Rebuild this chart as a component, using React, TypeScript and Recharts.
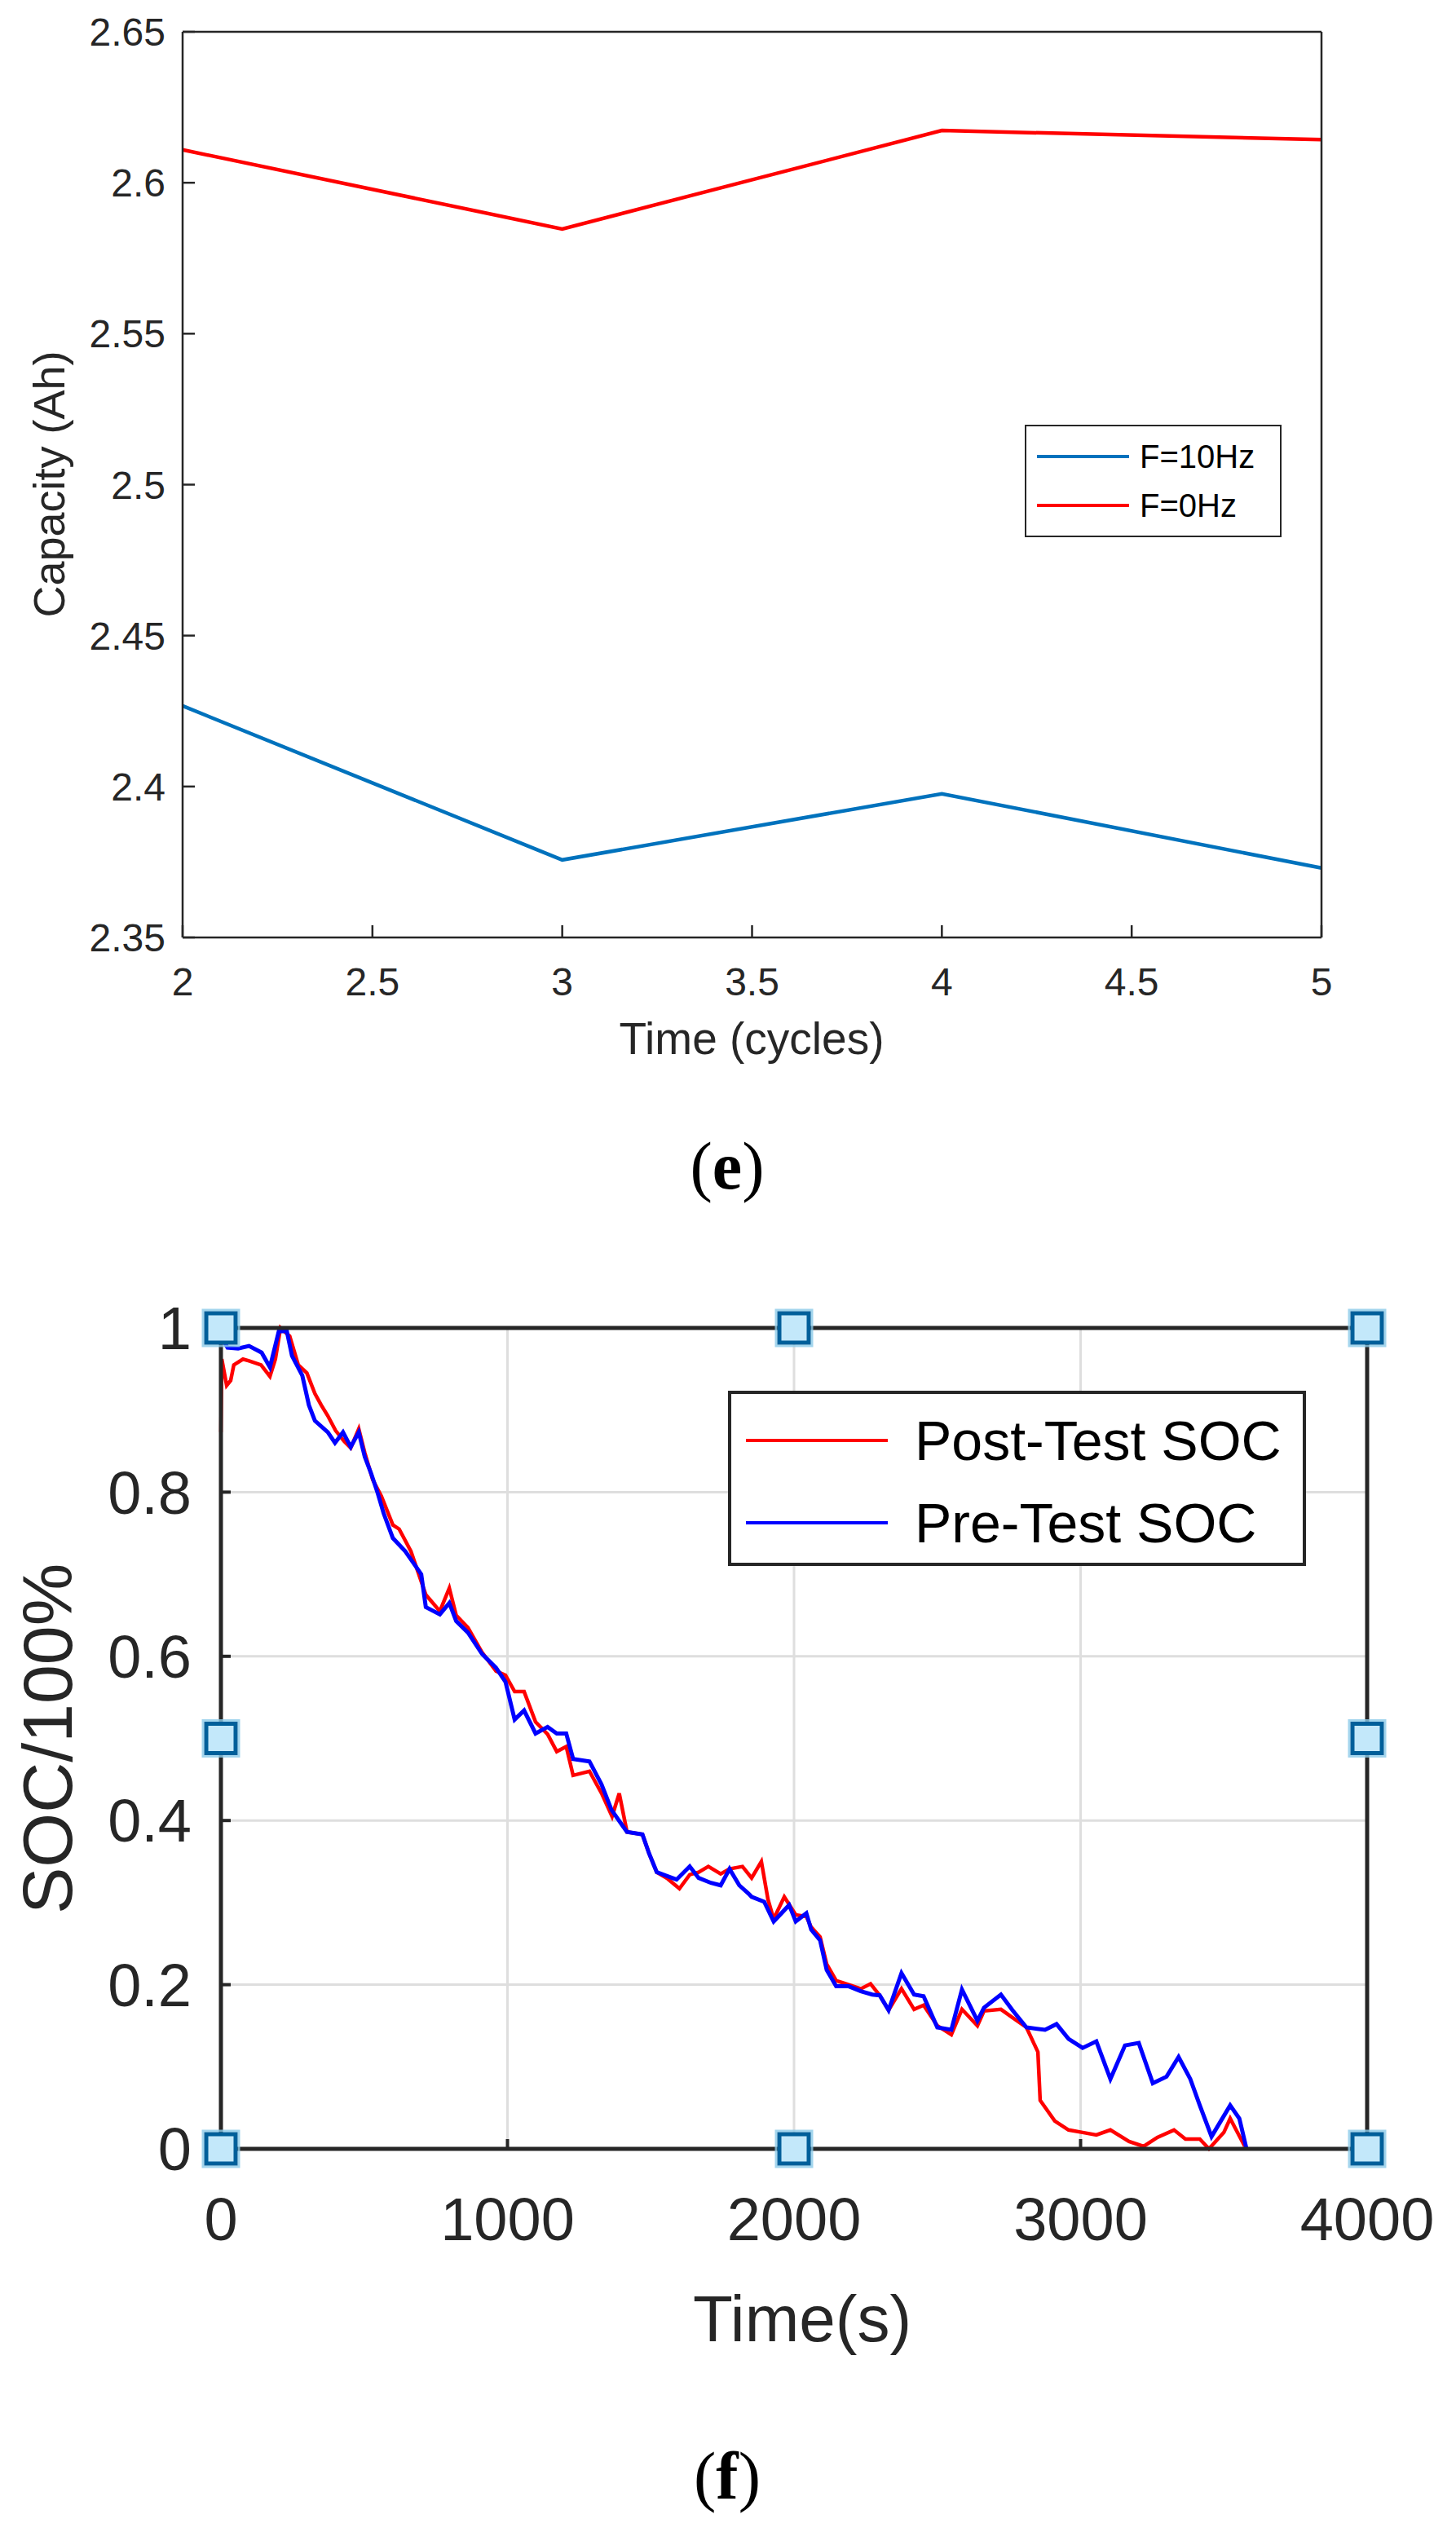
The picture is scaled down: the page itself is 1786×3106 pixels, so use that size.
import React from 'react';
import { LineChart, ComposedChart, Line, Scatter, XAxis, YAxis, CartesianGrid, Legend } from 'recharts';

const FONT = '"Liberation Sans", Arial, Helvetica, sans-serif';
const SERIF = '"Liberation Serif", "Times New Roman", Times, serif';
const AXIS = '#262626';

// ---------- Chart (e): capacity vs cycles ----------
const cycles = [2, 3, 4, 5];
const capacity10Hz = [2.4267, 2.3757, 2.3976, 2.373];
const capacity0Hz = [2.6109, 2.5847, 2.6173, 2.6143];
const capXTicks = [2, 2.5, 3, 3.5, 4, 4.5, 5];
const capYTicks = [2.35, 2.4, 2.45, 2.5, 2.55, 2.6, 2.65];
const capSeriesNames = ['F=10Hz', 'F=0Hz'];

// ---------- Chart (f): SOC vs time ----------
const preTime = [0, 23, 60, 98, 142, 171, 202, 230, 248, 284, 307, 328, 373, 398, 426, 453, 481, 502, 524, 546, 568, 600, 643, 699, 715, 764, 797, 821, 862, 911, 960, 993, 1025, 1058, 1098, 1140, 1172, 1205, 1229, 1286, 1328, 1363, 1417, 1471, 1494, 1521, 1559, 1590, 1636, 1667, 1710, 1744, 1775, 1809, 1841, 1852, 1896, 1929, 1983, 2006, 2043, 2060, 2091, 2114, 2147, 2191, 2233, 2273, 2299, 2330, 2375, 2419, 2452, 2500, 2549, 2586, 2640, 2663, 2722, 2762, 2811, 2876, 2916, 2958, 3007, 3055, 3104, 3155, 3203, 3252, 3300, 3342, 3383, 3416, 3457, 3522, 3554, 3579];
const preSoc = [0.99, 0.976, 0.975, 0.978, 0.97, 0.952, 0.996, 0.996, 0.966, 0.942, 0.906, 0.887, 0.873, 0.86, 0.873, 0.855, 0.873, 0.843, 0.823, 0.8, 0.774, 0.744, 0.728, 0.7, 0.66, 0.651, 0.665, 0.643, 0.629, 0.603, 0.586, 0.569, 0.523, 0.534, 0.506, 0.514, 0.506, 0.506, 0.475, 0.472, 0.444, 0.413, 0.386, 0.383, 0.36, 0.337, 0.332, 0.328, 0.344, 0.33, 0.324, 0.321, 0.341, 0.321, 0.311, 0.307, 0.301, 0.277, 0.297, 0.277, 0.287, 0.267, 0.254, 0.218, 0.198, 0.198, 0.192, 0.188, 0.187, 0.169, 0.214, 0.188, 0.186, 0.148, 0.145, 0.194, 0.156, 0.172, 0.188, 0.169, 0.148, 0.145, 0.152, 0.134, 0.123, 0.131, 0.085, 0.126, 0.129, 0.08, 0.088, 0.112, 0.085, 0.053, 0.015, 0.053, 0.037, 0.0];
const postTime = [0, 3, 20, 34, 45, 77, 98, 140, 171, 190, 208, 240, 270, 300, 328, 350, 373, 400, 430, 453, 481, 502, 530, 560, 600, 622, 663, 715, 764, 797, 821, 862, 911, 960, 993, 1025, 1058, 1098, 1140, 1172, 1205, 1229, 1286, 1330, 1365, 1390, 1417, 1471, 1494, 1521, 1559, 1600, 1636, 1667, 1701, 1744, 1775, 1820, 1852, 1886, 1909, 1929, 1966, 2006, 2043, 2060, 2091, 2114, 2147, 2191, 2233, 2267, 2299, 2330, 2375, 2419, 2452, 2500, 2549, 2586, 2640, 2663, 2722, 2762, 2811, 2851, 2859, 2910, 2958, 3007, 3055, 3104, 3169, 3220, 3268, 3326, 3366, 3416, 3448, 3500, 3522, 3573];
const postSoc = [0.873, 0.962, 0.93, 0.936, 0.955, 0.962, 0.96, 0.955, 0.941, 0.962, 1.0, 0.99, 0.955, 0.945, 0.92, 0.906, 0.893, 0.875, 0.862, 0.854, 0.877, 0.848, 0.815, 0.795, 0.76, 0.755, 0.728, 0.675, 0.655, 0.683, 0.65, 0.635, 0.605, 0.582, 0.577, 0.557, 0.557, 0.52, 0.505, 0.484, 0.49, 0.455, 0.46, 0.432, 0.405, 0.433, 0.386, 0.383, 0.36, 0.337, 0.329, 0.317, 0.334, 0.337, 0.344, 0.335, 0.341, 0.344, 0.33, 0.35, 0.304, 0.28, 0.307, 0.285, 0.283, 0.27, 0.258, 0.225, 0.205, 0.2, 0.195, 0.201, 0.187, 0.169, 0.195, 0.17, 0.175, 0.15, 0.139, 0.17, 0.15, 0.168, 0.17, 0.16, 0.148, 0.118, 0.059, 0.034, 0.023, 0.02, 0.017, 0.023, 0.009, 0.003, 0.014, 0.023, 0.012, 0.012, 0.0, 0.02, 0.037, 0.003];
const handleTime = [0, 0, 0, 2000, 4000, 4000, 2000, 4000];
const handleSoc = [0, 0.5, 1, 1, 1, 0.5, 0, 0];
const socXTicks = [0, 1000, 2000, 3000, 4000];
const socYTicks = [0, 0.2, 0.4, 0.6, 0.8, 1];
const socGridX = [1000, 2000, 3000];
const socGridY = [0.2, 0.4, 0.6, 0.8];
const socSeriesNames = ['Post-Test SOC', 'Pre-Test SOC'];

const capData = cycles.map((c, i) => ({ cycle: c, f10: capacity10Hz[i], f0: capacity0Hz[i] }));
const preData = preTime.map((t, i) => ({ t, soc: preSoc[i] }));
const postData = postTime.map((t, i) => ({ t, soc: postSoc[i] }));
const handleData = handleTime.map((t, i) => ({ t, soc: handleSoc[i] }));

type Box = {
  w: number; h: number; bw: number; rows: number[]; rowH: number;
  lx1: number; lx2: number; lw: number; tx: number; fs: number; order: string[];
};

const makeLegend = (box: Box) => (props: any) => {
  const raw = (props && props.payload) || [];
  const items = box.order
    .map((name) => raw.find((p: any) => p && p.value === name))
    .filter(Boolean);
  return (
    <div style={{ position: 'relative', width: box.w, height: box.h, boxSizing: 'border-box', border: `${box.bw}px solid ${AXIS}`, background: '#fff' }}>
      {items.map((p: any, i: number) => (
        <div key={i} style={{ position: 'absolute', left: 0, top: box.rows[i] - box.bw - box.rowH / 2, height: box.rowH, width: box.w - 2 * box.bw }}>
          <svg style={{ position: 'absolute', left: box.lx1 - box.bw, top: 0 }} width={box.lx2 - box.lx1} height={box.rowH}>
            <line x1={0} x2={box.lx2 - box.lx1} y1={box.rowH / 2} y2={box.rowH / 2} stroke={p.color} strokeWidth={box.lw} />
          </svg>
          <span style={{ position: 'absolute', left: box.tx - box.bw, top: 0, lineHeight: `${box.rowH}px`, fontSize: box.fs, fontFamily: FONT, color: '#000', whiteSpace: 'nowrap' }}>
            {p.value}
          </span>
        </div>
      ))}
    </div>
  );
};

const legendE = makeLegend({ w: 315, h: 138, bw: 2, rows: [39, 99], rowH: 50, lx1: 15, lx2: 128, lw: 4, tx: 141, fs: 40, order: capSeriesNames });
const legendF = makeLegend({ w: 709, h: 215, bw: 4, rows: [61, 162], rowH: 80, lx1: 22, lx2: 196, lw: 4, tx: 229, fs: 68, order: socSeriesNames });

function CapacityChart() {
  const tickStyle = { fontSize: 48, fill: '#262626', fontFamily: FONT };
  const line = { stroke: AXIS, strokeWidth: 2.5 };
  return (
    <LineChart width={1786} height={1350} data={capData} margin={{ top: 38, right: 164, bottom: 140, left: 124 }}>
      <XAxis xAxisId="b" dataKey="cycle" type="number" domain={[2, 5]} ticks={capXTicks} interval={0}
        height={60} axisLine={line} tickLine={line} tickSize={-15} tickMargin={52} tick={tickStyle}
        label={() => <text x={922} y={1293} textAnchor="middle" fontSize={55} fontFamily={FONT} fill="#262626">Time (cycles)</text>} />
      <XAxis xAxisId="t" orientation="top" dataKey="cycle" type="number" domain={[2, 5]} ticks={capXTicks} interval={0}
        height={1} axisLine={line} tickLine={line} tickSize={-15} tick={false} />
      <YAxis yAxisId="l" type="number" domain={[2.35, 2.65]} ticks={capYTicks} interval={0}
        width={100} axisLine={line} tickLine={line} tickSize={-15} tickMargin={36} tick={tickStyle}
        label={() => <text x={79} y={594} transform="rotate(-90 79 594)" textAnchor="middle" fontSize={54} fontFamily={FONT} fill="#262626">Capacity (Ah)</text>} />
      <YAxis yAxisId="r" orientation="right" type="number" domain={[2.35, 2.65]} ticks={capYTicks} interval={0}
        width={1} axisLine={line} tickLine={line} tickSize={-15} tick={false} />
      <Line xAxisId="b" yAxisId="l" type="linear" dataKey="f10" name={capSeriesNames[0]} stroke="#0072BD" strokeWidth={4.5} dot={false} isAnimationActive={false} />
      <Line xAxisId="t" yAxisId="r" type="linear" dataKey="f0" name={capSeriesNames[1]} stroke="#FF0000" strokeWidth={4.5} dot={false} isAnimationActive={false} />
      <Legend layout="horizontal" verticalAlign="middle" align="center" content={legendE}
        wrapperStyle={{ left: 1257, top: 521, width: 315, height: 138 }} />
    </LineChart>
  );
}

const HandleSquare = (props: any) => {
  const { cx, cy } = props;
  if (cx == null || cy == null) return null;
  return (
    <g>
      <rect x={cx - 22} y={cy - 22} width={44} height={44} fill="none" stroke="#8ccbe9" strokeWidth={3} opacity={0.8} />
      <rect x={cx - 18} y={cy - 18} width={36} height={36} fill="#c3e8fa" stroke="#005f9a" strokeWidth={5} />
    </g>
  );
};

function SocChart() {
  const tickStyle = { fontSize: 74, fill: '#262626', fontFamily: FONT };
  const line = { stroke: AXIS, strokeWidth: 5 };
  const tl = { stroke: AXIS, strokeWidth: 4 };
  return (
    <ComposedChart width={1786} height={1560} margin={{ top: 248, right: 108, bottom: 204, left: 121 }}>
      <CartesianGrid xAxisId="b" yAxisId="l" stroke="#dedede" strokeWidth={3} horizontal vertical
        horizontalValues={socGridY} verticalValues={socGridX} />
      <XAxis xAxisId="b" dataKey="t" type="number" domain={[0, 4000]} ticks={socXTicks} interval={0}
        height={100} axisLine={line} tickLine={tl} tickSize={-12} tickMargin={71} tick={tickStyle}
        label={() => <text x={984} y={1492} textAnchor="middle" fontSize={80} fontFamily={FONT} fill="#262626">Time(s)</text>} />
      <XAxis xAxisId="t" orientation="top" dataKey="t" type="number" domain={[0, 4000]} ticks={socXTicks} interval={0}
        height={1} axisLine={line} tickLine={tl} tickSize={-12} tick={false} />
      <YAxis yAxisId="l" dataKey="soc" type="number" domain={[0, 1]} ticks={socYTicks} interval={0}
        width={150} axisLine={line} tickLine={tl} tickSize={-12} tickMargin={48} tick={tickStyle}
        label={() => <text x={88} y={753} transform="rotate(-90 88 753)" textAnchor="middle" fontSize={86} fontFamily={FONT} fill="#262626">SOC/100%</text>} />
      <YAxis yAxisId="r" orientation="right" dataKey="soc" type="number" domain={[0, 1]} ticks={socYTicks} interval={0}
        width={1} axisLine={line} tickLine={tl} tickSize={-12} tick={false} />
      <Line xAxisId="t" yAxisId="r" data={postData} type="linear" dataKey="soc" name={socSeriesNames[0]} stroke="#FF0000" strokeWidth={4.5} dot={false} isAnimationActive={false} />
      <Line xAxisId="b" yAxisId="l" data={preData} type="linear" dataKey="soc" name={socSeriesNames[1]} stroke="#0000FF" strokeWidth={5} dot={false} isAnimationActive={false} />
      <Scatter xAxisId="b" yAxisId="l" data={handleData} dataKey="soc" name="handles" legendType="none" shape={HandleSquare} isAnimationActive={false} />
      <Legend layout="horizontal" verticalAlign="middle" align="center" content={legendF}
        wrapperStyle={{ left: 893, top: 326, width: 709, height: 215 }} />
    </ComposedChart>
  );
}

export default function App() {
  return (
    <div style={{ position: 'absolute', left: 0, top: 0, width: 1786, height: 3106, background: '#fff' }}>
      <div style={{ position: 'absolute', left: 0, top: 0 }}>
        <CapacityChart />
      </div>
      <div style={{ position: 'absolute', left: 0, top: 1380 }}>
        <SocChart />
      </div>
      <svg style={{ position: 'absolute', left: 0, top: 0, pointerEvents: 'none' }} width={1786} height={3106}>
        <text x={892} y={1458} textAnchor="middle" fontFamily={SERIF} fontSize={82} fill="#000">
          (<tspan fontWeight="bold">e</tspan>)
        </text>
        <text x={892} y={3065} textAnchor="middle" fontFamily={SERIF} fontSize={82} fill="#000">
          (<tspan fontWeight="bold">f</tspan>)
        </text>
      </svg>
    </div>
  );
}
